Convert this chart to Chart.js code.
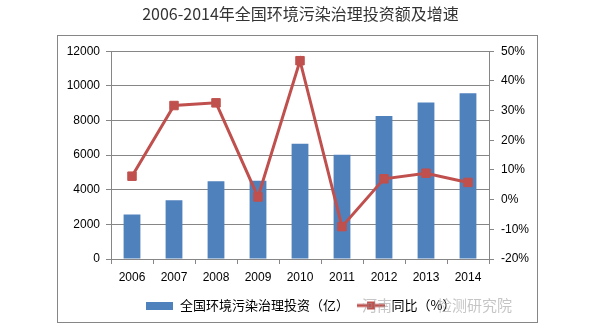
<!DOCTYPE html>
<html>
<head>
<meta charset="utf-8">
<script src="https://cdn.jsdelivr.net/npm/chart.js@4"></script>
<style>
  html, body { margin: 0; padding: 0; background: #fff; }
  #wrap { width: 601px; height: 333px; position: relative; }
</style>
</head>
<body>
<div id="wrap"><canvas id="chart"></canvas></div>
<script>
const YEARS = ['2006', '2007', '2008', '2009', '2010', '2011', '2012', '2013', '2014'];
const INVEST = [2566, 3387, 4490, 4525, 6654, 6026, 8253, 9037, 9576]; // 亿元
const GROWTH = [7.9, 31.7, 32.6, 0.9, 46.8, -9.1, 7.0, 8.9, 5.8];     // %

const BLUE = '#4F81BD';
const RED = '#C0504D';
const GRID = '#868686';
const TICK_FONT = { family: '"Liberation Sans", Arial, sans-serif', size: 12 };
const CJK = '"Noto Sans CJK SC", "Noto Sans", sans-serif';

// legend icons: bar swatch and line with square marker
function makeIcon(w, h, draw) {
  const c = document.createElement('canvas');
  c.width = w; c.height = h;
  draw(c.getContext('2d'));
  return c;
}
const barIcon = makeIcon(27, 8, g => { g.fillStyle = BLUE; g.fillRect(0, 0, 27, 8); });
const lineIcon = makeIcon(28, 10, g => {
  g.strokeStyle = RED; g.lineWidth = 3;
  g.beginPath(); g.moveTo(0, 5); g.lineTo(28, 5); g.stroke();
  g.fillStyle = RED; g.fillRect(10, 1, 8, 8);
});

const framePlugin = {
  id: 'frame',
  beforeDraw(chart) {
    const ctx = chart.ctx;
    ctx.save();
    ctx.strokeStyle = GRID;
    ctx.lineWidth = 1;
    ctx.strokeRect(57.5, 35.5, 480, 287);
    ctx.restore();
  },
  afterDraw(chart) {
    // faint watermark text over the legend row
    const ctx = chart.ctx;
    ctx.save();
    ctx.fillStyle = 'rgba(150,150,150,0.55)';
    ctx.font = '15px ' + CJK;
    ctx.textBaseline = 'middle';
    ctx.fillText('河南', 362, 305);
    ctx.fillText('检测研究院', 437, 305);
    ctx.restore();
  }
};

new Chart(document.getElementById('chart'), {
  type: 'bar',
  data: {
    labels: YEARS,
    datasets: [
      {
        type: 'line',
        label: '同比（%）',
        data: GROWTH,
        yAxisID: 'y1',
        borderColor: RED,
        backgroundColor: RED,
        borderWidth: 3,
        pointStyle: 'rect',
        pointRadius: 6,
        pointBorderWidth: 1,
        tension: 0,
        order: 0
      },
      {
        label: '全国环境污染治理投资（亿）',
        data: INVEST,
        yAxisID: 'y',
        backgroundColor: BLUE,
        barPercentage: 0.4,
        categoryPercentage: 1,
        order: 1
      }
    ]
  },
  options: {
    responsive: true,
    maintainAspectRatio: false,
    animation: false,
    layout: { padding: { left: 0, right: 0, top: 0, bottom: 11 } },
    plugins: {
      title: {
        display: true,
        text: '2006-2014年全国环境污染治理投资额及增速',
        color: '#333',
        font: { family: CJK, size: 16, weight: 'normal' },
        padding: { top: 4, bottom: 28 }
      },
      legend: {
        position: 'bottom',
        reverse: true,
        labels: {
          color: '#000',
          font: { family: CJK, size: 13 },
          usePointStyle: true,
          pointStyleWidth: 28,
          padding: 8,
          generateLabels(chart) {
            const items = Chart.defaults.plugins.legend.labels.generateLabels(chart);
            items.forEach(it => {
              it.pointStyle = it.datasetIndex === 0 ? lineIcon : barIcon;
            });
            return items;
          }
        }
      },
      tooltip: { enabled: false }
    },
    scales: {
      x: {
        grid: { display: true, drawOnChartArea: false, offset: true, color: GRID, tickLength: 5 },
        border: { color: GRID },
        ticks: { color: '#000', font: TICK_FONT, padding: 6 },
        afterFit(s) { s.height = 32; }
      },
      y: {
        position: 'left',
        min: 0,
        max: 12000,
        ticks: { stepSize: 2000, color: '#000', font: TICK_FONT, padding: 6, callback: v => String(v) },
        grid: { color: GRID, tickLength: 5 },
        border: { color: GRID },
        afterFit(s) { s.width = 111; }
      },
      y1: {
        position: 'right',
        min: -20,
        max: 50,
        ticks: { stepSize: 10, color: '#000', font: TICK_FONT, padding: 7, callback: v => v + '%' },
        grid: { drawOnChartArea: false, color: GRID, tickLength: 5 },
        border: { color: GRID },
        afterFit(s) { s.width = 112; }
      }
    }
  },
  plugins: [framePlugin]
});
</script>
</body>
</html>
